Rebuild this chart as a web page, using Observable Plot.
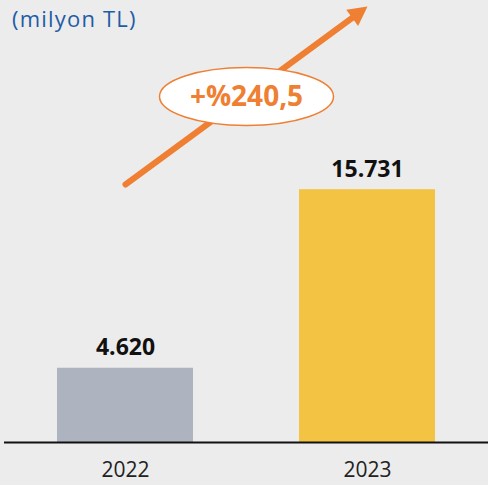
<!DOCTYPE html>
<html>
<head>
<meta charset="utf-8">
<script src="https://cdn.jsdelivr.net/npm/d3@7"></script>
<script src="https://cdn.jsdelivr.net/npm/@observablehq/plot@0.6"></script>
<style>
  html, body { margin: 0; padding: 0; background: #ececec; }
  #wrap { position: relative; width: 488px; height: 485px; overflow: hidden; }
  #title { position: absolute; left: 12px; top: 7px; font-family: "Open Sans", sans-serif; font-size: 22px; line-height: 1; color: #1f5ca6; letter-spacing: 1.2px; white-space: nowrap; }
  svg { display: block; }
</style>
</head>
<body>
<div id="wrap">
  <div id="title">(milyon TL)</div>
</div>
<script>
// Data
const years = ["2022", "2023"];
const values = [4620, 15731];
const valueLabels = ["4.620", "15.731"];
const growthLabel = "+%240,5";
// annotation anchors (data space): arrow from 2022 to 2023
const arrowFrom = 16050;
const arrowTo = 27120;
const badgeY = 21530;

const data = years.map((y, i) => ({year: y, value: values[i], label: valueLabels[i]}));

const ellipse = {
  draw(ctx) {
    const rx = 87, ry = 29, k = 0.5522847;
    ctx.moveTo(rx, 0);
    ctx.bezierCurveTo(rx, ry * k, rx * k, ry, 0, ry);
    ctx.bezierCurveTo(-rx * k, ry, -rx, ry * k, -rx, 0);
    ctx.bezierCurveTo(-rx, -ry * k, -rx * k, -ry, 0, -ry);
    ctx.bezierCurveTo(rx * k, -ry, rx, -ry * k, rx, 0);
    ctx.closePath();
  }
};
// arrowhead: tip at origin, pointing up
const head = {
  draw(ctx) {
    const L = 19, w = 20;
    ctx.moveTo(0, 0);
    ctx.lineTo(w / 2, L);
    ctx.lineTo(-w / 2, L);
    ctx.closePath();
  }
};

function build(rotate) {
  return Plot.plot({
    width: 488,
    height: 485,
    marginLeft: 4,
    marginRight: 0,
    marginTop: 0,
    marginBottom: 43,
    style: {background: "transparent", fontFamily: "Open Sans, sans-serif", overflow: "visible"},
    x: {type: "band", domain: years, paddingInner: 0.44, paddingOuter: 0.22, label: null},
    y: {domain: [0, 27500], axis: null},
    color: {domain: years, range: ["#adb4bf", "#f3c444"]},
    marks: [
      Plot.barY(data, {x: "year", y: "value", fill: (d) => d.year}),
      Plot.ruleY([0], {stroke: "#111", strokeWidth: 2}),
      Plot.axisX({tickSize: 0, tickPadding: 20, fontSize: 21, fill: "#222", label: null}),
      Plot.text(data, {x: "year", y: "value", text: "label", dy: -13, lineAnchor: "bottom", fontSize: 23, fontWeight: "bold", fill: "#111"}),
      Plot.arrow([{a: years[0], b: years[1]}], {x1: "a", x2: "b", y1: () => arrowFrom, y2: () => arrowTo, stroke: "#ef7f32", strokeWidth: 6, headLength: 0, insetEnd: 12}),
      Plot.dot([{a: years[1]}], {x: "a", y: () => arrowTo, symbol: head, r: 10, fill: "#ef7f32", stroke: "none", rotate}),
      Plot.dot([badgeY], {y: (d) => d, symbol: ellipse, r: 10, fill: "white", stroke: "#ef7f32", strokeWidth: 1.5}),
      Plot.text([growthLabel], {y: () => badgeY, text: (d) => d, fontSize: 28, fontWeight: "bold", fill: "#ef7f32", dy: 1})
    ]
  });
}

// first pass to read the scales, then orient the arrowhead along the stem
const probe = build(0);
const sx = probe.scale("x"), sy = probe.scale("y");
const bw = sx.bandwidth || 0;
const px1 = sx.apply(years[0]) + bw / 2, px2 = sx.apply(years[1]) + bw / 2;
const py1 = sy.apply(arrowFrom), py2 = sy.apply(arrowTo);
const angle = Math.atan2(py2 - py1, px2 - px1) * 180 / Math.PI + 90;
const chart = build(angle);
document.getElementById("wrap").appendChild(chart);
</script>
</body>
</html>
